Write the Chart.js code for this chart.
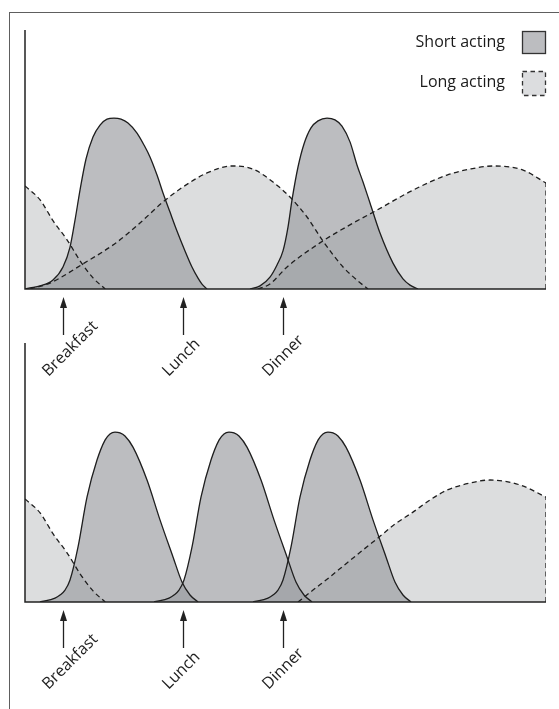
<!DOCTYPE html>
<html>
<head>
<meta charset="utf-8">
<script src="https://cdn.jsdelivr.net/npm/chart.js@4.4.1/dist/chart.umd.min.js"></script>
<style>
  html, body { margin: 0; padding: 0; background: #fff; width: 559px; height: 709px; overflow: hidden; }
  #frame { position: absolute; left: 9px; top: 12px; width: 700px; height: 800px;
           border-left: 1.5px solid #5e5e5e; border-top: 1.5px solid #5e5e5e; }
  canvas { position: absolute; left: 0; }
</style>
</head>
<body>
<div id="frame"></div>
<canvas id="topChart" width="559" height="390" style="top:0"></canvas>
<canvas id="bottomChart" width="559" height="379" style="top:330px"></canvas>
<script>
// x = time (0..100 across the axis), y = insulin effect (0..100 up to the axis top)
const meals = ['Breakfast', 'Lunch', 'Dinner'];
const mealTimes = [7.3, 30.3, 49.5];

// top panel: two short acting doses, long acting twice a day
const topShort1X = [0, 0.96, 2.88, 5.37, 7.29, 8.64, 9.60, 10.56, 11.71, 13.05, 14.40, 15.74, 17.08, 18.43, 19.77, 21.50, 22.84, 23.99, 25.34, 26.49, 27.83, 29.17, 30.71, 32.05, 33.21, 33.97, 34.93];
const topShort1Y = [0, 0.4, 1.2, 3.5, 8.5, 16.2, 26.6, 38.2, 50.2, 58.7, 63.3, 65.6, 66.0, 65.6, 64.1, 60.2, 55.6, 51.0, 44.0, 37.1, 29.7, 22.4, 14.7, 8.5, 4.2, 1.9, 0];
const topShort2X = [43.19, 45.11, 47.02, 48.37, 49.52, 50.48, 51.25, 52.40, 53.55, 54.89, 56.24, 57.97, 59.50, 60.84, 62.38, 63.72, 64.88, 66.22, 68.14, 70.63, 72.55, 73.90, 75.43];
const topShort2Y = [0, 1.2, 4.6, 9.3, 14.7, 23.9, 34.4, 47.1, 56.0, 62.2, 64.9, 66.0, 65.3, 62.9, 56.8, 47.9, 41.3, 33.2, 21.6, 10.0, 3.9, 1.5, 0];
const topLongAX = [0, 2.9, 5.4, 8.1, 10.6, 13.1, 15.4];
const topLongAY = [39.8, 34.4, 26.3, 18.9, 10.8, 4.2, 0];
const topLongBX = [0.96, 4.80, 11.13, 17.66, 22.07, 26.49, 30.33, 34.93, 39.73, 43.76, 47.60, 50.86, 54.13, 57.20, 61.04, 63.92, 65.83];
const topLongBY = [0, 2.3, 9.7, 18.1, 25.5, 33.6, 39.4, 44.8, 47.5, 46.3, 41.3, 35.5, 27.8, 18.5, 8.5, 3.1, 0];
const topLongCX = [44.7, 47.0, 50.3, 56.6, 63.0, 67.6, 74.5, 81.0, 85.4, 89.8, 95.6, 100];
const topLongCY = [0, 1.9, 8.5, 17.8, 25.5, 30.5, 38.2, 44.0, 46.3, 47.5, 45.9, 40.9];

// bottom panel: short acting with each meal, long acting at night
const botShort1X = [2.88, 5.76, 6.72, 7.68, 8.64, 10.17, 11.90, 13.82, 15.36, 16.31, 17.27, 18.23, 19.19, 20.73, 23.42, 25.91, 28.41, 30.13, 31.67, 33.21];
const botShort2X = [24.76, 27.64, 28.60, 29.56, 30.52, 32.05, 33.78, 35.70, 37.24, 38.19, 39.15, 40.11, 41.07, 42.61, 45.30, 47.79, 50.29, 52.01, 53.55, 55.09];
const botShort3X = [43.76, 46.64, 47.60, 48.56, 49.52, 51.05, 52.78, 54.70, 56.24, 57.19, 58.15, 59.11, 60.07, 61.61, 64.30, 66.79, 69.29, 71.01, 72.55, 74.09];
const botShortY = [0, 1.5, 2.7, 4.6, 8.5, 21.2, 40.5, 54.8, 62.5, 64.9, 65.6, 65.3, 64.1, 59.8, 47.1, 31.7, 17.4, 7.7, 2.7, 0];
const botLongAX = [0, 2.9, 5.4, 8.1, 10.6, 13.1, 15.4];
const botLongAY = [39.8, 34.4, 26.3, 18.9, 10.8, 4.2, 0];
const botLongDX = [52.40, 55.28, 58.54, 61.80, 64.88, 67.75, 71.02, 74.47, 77.74, 81.00, 85.41, 89.25, 95.01, 100];
const botLongDY = [0, 4.6, 9.7, 15.1, 20.1, 24.7, 30.1, 34.7, 39.4, 43.2, 45.9, 47.1, 45.2, 40.5];

const legendLabels = ['Short acting', 'Long acting'];

const SHORT_FILL = 'rgba(153,155,159,0.66)';
const LONG_FILL = 'rgba(153,155,159,0.34)';
const LINE = '#1e1e1e';
const FONT = '16px "Open Sans"';

function pts(xs, ys) {
    return xs.map((x, i) => ({ x: x, y: ys[i] }));
}

function curve(kind, xs, ys) {
    return {
        data: pts(xs, ys),
        fill: 'origin',
        backgroundColor: kind === 'short' ? SHORT_FILL : LONG_FILL,
        borderColor: LINE,
        borderWidth: 1.3,
        borderDash: kind === 'long' ? [5, 3.5] : [],
        pointRadius: 0,
        cubicInterpolationMode: 'monotone'
    };
}

// right-hand end of the long acting curve is closed with a dashed drop line
function edge(x, y) {
    return {
        data: [{ x: x, y: 0 }, { x: x, y: y }],
        fill: false,
        borderColor: LINE,
        borderWidth: 1.3,
        borderDash: [5, 3.5],
        pointRadius: 0
    };
}

const decorPlugin = {
    id: 'decor',
    afterDatasetsDraw(chart, args, opts) {
        const ctx = chart.ctx;
        const a = chart.chartArea;
        const xs = chart.scales.x;
        ctx.save();
        // axes
        ctx.strokeStyle = '#222';
        ctx.lineWidth = 1.5;
        ctx.setLineDash([]);
        ctx.beginPath();
        ctx.moveTo(a.left, a.top);
        ctx.lineTo(a.left, a.bottom);
        ctx.lineTo(a.right, a.bottom);
        ctx.stroke();

        // meal arrows and labels
        ctx.fillStyle = '#222';
        ctx.lineWidth = 1.3;
        meals.forEach((m, i) => {
            const px = Math.round(xs.getPixelForValue(mealTimes[i])) + 0.5;
            const tip = a.bottom + 8;
            ctx.beginPath();
            ctx.moveTo(px, a.bottom + 46);
            ctx.lineTo(px, tip + 9);
            ctx.stroke();
            ctx.beginPath();
            ctx.moveTo(px, tip);
            ctx.lineTo(px - 3.5, tip + 11);
            ctx.lineTo(px + 3.5, tip + 11);
            ctx.closePath();
            ctx.fill();

            ctx.save();
            ctx.translate(px - 15, a.bottom + 88);
            ctx.rotate(-Math.PI / 4);
            ctx.font = FONT;
            ctx.textAlign = 'left';
            ctx.textBaseline = 'alphabetic';
            ctx.fillText(m, 0, 0);
            ctx.restore();
        });

        if (opts.legend) {
            ctx.font = FONT;
            ctx.textAlign = 'right';
            ctx.textBaseline = 'alphabetic';
            ctx.fillStyle = '#1a1a1a';
            ctx.fillText(legendLabels[0], 505, 47);
            ctx.fillText(legendLabels[1], 505, 87);

            ctx.lineWidth = 1.3;
            ctx.fillStyle = '#bcbdc0';
            ctx.fillRect(522.5, 31.5, 23, 22);
            ctx.strokeStyle = '#333';
            ctx.strokeRect(522.5, 31.5, 23, 22);

            ctx.fillStyle = '#dcdddf';
            ctx.fillRect(522.5, 71.5, 23, 24);
            ctx.setLineDash([4.5, 3.5]);
            ctx.strokeRect(522.5, 71.5, 23, 24);
        }
        ctx.restore();
    }
};

function drawPanel(canvasId, datasets, padding, showLegend) {
    const ctx = document.getElementById(canvasId);
    new Chart(ctx, {
        type: 'line',
        data: { datasets: datasets },
        options: {
            responsive: false,
            animation: false,
            layout: { padding: padding },
            scales: {
                x: { type: 'linear', min: 0, max: 100, display: false },
                y: { min: 0, max: 100, display: false }
            },
            plugins: {
                legend: { display: false },
                tooltip: { enabled: false },
                filler: { drawTime: 'beforeDatasetsDraw' },
                decor: { legend: showLegend }
            }
        },
        plugins: [decorPlugin]
    });
}

drawPanel('topChart', [
    curve('long', topLongAX, topLongAY),
    curve('long', topLongBX, topLongBY),
    curve('long', topLongCX, topLongCY),
    edge(100, topLongCY[topLongCY.length - 1]),
    curve('short', topShort1X, topShort1Y),
    curve('short', topShort2X, topShort2Y)
], { left: 25, right: 13, top: 30, bottom: 101 }, true);

drawPanel('bottomChart', [
    curve('long', botLongAX, botLongAY),
    curve('long', botLongDX, botLongDY),
    edge(100, botLongDY[botLongDY.length - 1]),
    curve('short', botShort1X, botShortY),
    curve('short', botShort2X, botShortY),
    curve('short', botShort3X, botShortY)
], { left: 25, right: 13, top: 13, bottom: 107 }, false);
</script>
</body>
</html>
